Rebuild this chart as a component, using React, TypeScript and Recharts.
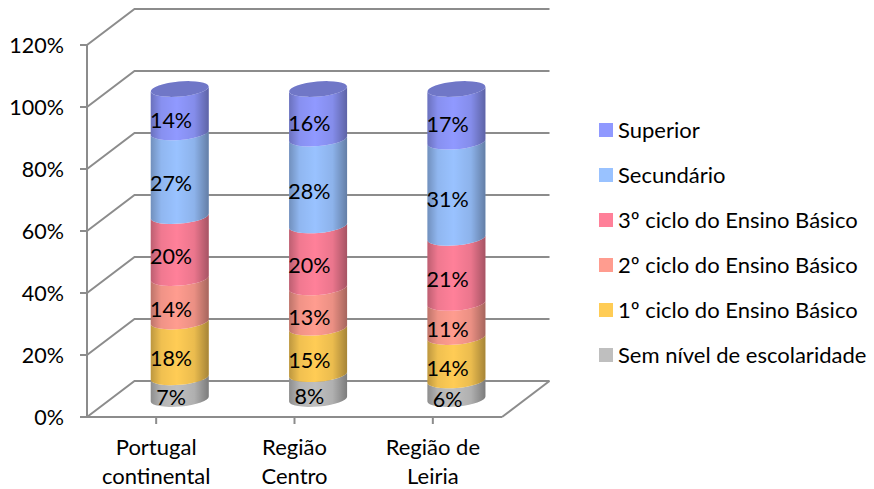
import { BarChart, Bar, XAxis, YAxis, CartesianGrid, LabelList, Legend } from "recharts";

const CATEGORIES = ["Portugal continental", "Região Centro", "Região de Leiria"];
const SEM_NIVEL = [7, 8, 6];
const CICLO_1 = [18, 15, 14];
const CICLO_2 = [14, 13, 11];
const CICLO_3 = [20, 20, 21];
const SECUNDARIO = [27, 28, 31];
const SUPERIOR = [14, 16, 17];
const Y_TICKS = [0, 20, 40, 60, 80, 100, 120];

const SERIES = [
  { name: "Sem nível de escolaridade", values: SEM_NIVEL, color: "#bfbfbf" },
  { name: "1º ciclo do Ensino Básico", values: CICLO_1, color: "#ffcc55" },
  { name: "2º ciclo do Ensino Básico", values: CICLO_2, color: "#ff9c8f" },
  { name: "3º ciclo do Ensino Básico", values: CICLO_3, color: "#ff8099" },
  { name: "Secundário", values: SECUNDARIO, color: "#99c2ff" },
  { name: "Superior", values: SUPERIOR, color: "#9099ff" },
];

const data = CATEGORIES.map((name, i) => {
  const row: Record<string, string | number> = { name };
  SERIES.forEach((s) => (row[s.name] = s.values[i]));
  return row;
});

// fake 3D: the back wall sits up and to the right of the front plane
const DEPTH_X = 47.5;
const DEPTH_Y = -36;
const FONT = "Lato, Carlito, sans-serif";
const GRID = "#8c8c8c";

function Cylinder(props: any) {
  const { x, y, width, height, fill, isTop } = props;
  const rx = width / 2;
  const ry = 7.5;
  const cx = x + rx + DEPTH_X / 2;
  const top = y + DEPTH_Y / 2;
  const bottom = top + height;
  const tilt = 2.5;
  const d =
    `M${cx - rx},${top + tilt} A${rx},${ry} -5 0 0 ${cx + rx},${top - tilt} ` +
    `L${cx + rx},${bottom - tilt} A${rx},${ry} -5 0 1 ${cx - rx},${bottom + tilt} Z`;
  return (
    <g>
      <path d={d} fill={fill} />
      <path d={d} fill="url(#cylShade)" />
      {isTop && (
        <g>
          <ellipse cx={cx} cy={top} rx={rx} ry={ry} fill={fill} transform={`rotate(-5 ${cx} ${top})`} />
          <ellipse cx={cx} cy={top} rx={rx} ry={ry} fill="#000" fillOpacity={0.22} transform={`rotate(-5 ${cx} ${top})`} />
        </g>
      )}
    </g>
  );
}

function GridLine(props: any) {
  const { x1, x2, y1, index } = props;
  const bx = DEPTH_X;
  const by = DEPTH_Y;
  const isFloor = y1 > 400;
  return (
    <g key={index} fill="none" stroke={GRID} strokeWidth={2}>
      <polyline points={`${x1},${y1} ${x1 + bx},${y1 + by} ${x2 + bx},${y1 + by}`} />
      {isFloor && <line x1={x2} y1={y1} x2={x2 + bx} y2={y1 + by} />}
    </g>
  );
}

function CategoryTick(props: any) {
  const { x, y, payload } = props;
  const text: string = payload.value;
  const cut = text.lastIndexOf(" ");
  return (
    <text x={x} y={y} textAnchor="middle" fontSize={22} fontFamily={FONT} fill="#000">
      <tspan x={x} dy={29}>{text.slice(0, cut)}</tspan>
      <tspan x={x} dy={29}>{text.slice(cut + 1)}</tspan>
    </text>
  );
}

function ValueLabel(props: any) {
  const { x, y, width, height, value } = props;
  return (
    <text
      x={x + width / 2 + 15}
      y={y + height / 2 - 9}
      textAnchor="middle"
      dominantBaseline="central"
      fontSize={21.5}
      fontFamily={FONT}
      fill="#000"
    >
      {value}%
    </text>
  );
}

function LegendList(props: any) {
  const items = [...(props.payload || [])].reverse();
  return (
    <div style={{ fontFamily: FONT, fontSize: 22, color: "#000" }}>
      {items.map((it: any) => (
        <div key={it.value} style={{ display: "flex", alignItems: "center", height: 45, whiteSpace: "nowrap" }}>
          <span style={{ width: 14, height: 14, background: it.color, marginRight: 5, display: "inline-block" }} />
          {it.value}
        </div>
      ))}
    </div>
  );
}

export default function App() {
  return (
    <div style={{ position: "absolute", left: 0, top: 0, width: 874, height: 489, background: "#fff" }}>
      <BarChart
        width={874}
        height={489}
        data={data}
        margin={{ top: 45, right: 372, left: 0, bottom: 0 }}
        barSize={58}
      >
        <defs>
          <linearGradient id="cylShade" x1="0" y1="0" x2="1" y2="0">
            <stop offset="0" stopColor="#000" stopOpacity={0.26} />
            <stop offset="0.18" stopColor="#000" stopOpacity={0.06} />
            <stop offset="0.45" stopColor="#000" stopOpacity={0} />
            <stop offset="0.75" stopColor="#000" stopOpacity={0.08} />
            <stop offset="1" stopColor="#000" stopOpacity={0.35} />
          </linearGradient>
        </defs>
        <CartesianGrid vertical={false} horizontal={(p: any) => <GridLine {...p} />} />
        <XAxis
          dataKey="name"
          height={72}
          tickSize={7}
          stroke={GRID}
          axisLine={{ stroke: GRID, strokeWidth: 2 }}
          tickLine={{ stroke: GRID, strokeWidth: 2 }}
          interval={0}
          tick={<CategoryTick />}
        />
        <YAxis
          width={87}
          domain={[0, 120]}
          ticks={Y_TICKS}
          tickSize={7}
          tickMargin={16}
          axisLine={{ stroke: GRID, strokeWidth: 2 }}
          tickLine={{ stroke: GRID, strokeWidth: 2 }}
          tick={{ fontSize: 21.5, fontFamily: FONT, fill: "#000" }}
          tickFormatter={(v: number) => `${v}%`}
        />
        <Legend
          layout="vertical"
          align="center"
          verticalAlign="middle"
          itemSorter={null}
          wrapperStyle={{ left: 599, top: 107, width: 275, bottom: "auto", right: "auto" }}
          content={<LegendList />}
        />
        {SERIES.map((s, i) => (
          <Bar
            key={s.name}
            dataKey={s.name}
            stackId="a"
            fill={s.color}
            isAnimationActive={false}
            shape={<Cylinder isTop={i === SERIES.length - 1} />}
          >
            <LabelList dataKey={s.name} content={<ValueLabel />} />
          </Bar>
        ))}
      </BarChart>
    </div>
  );
}
